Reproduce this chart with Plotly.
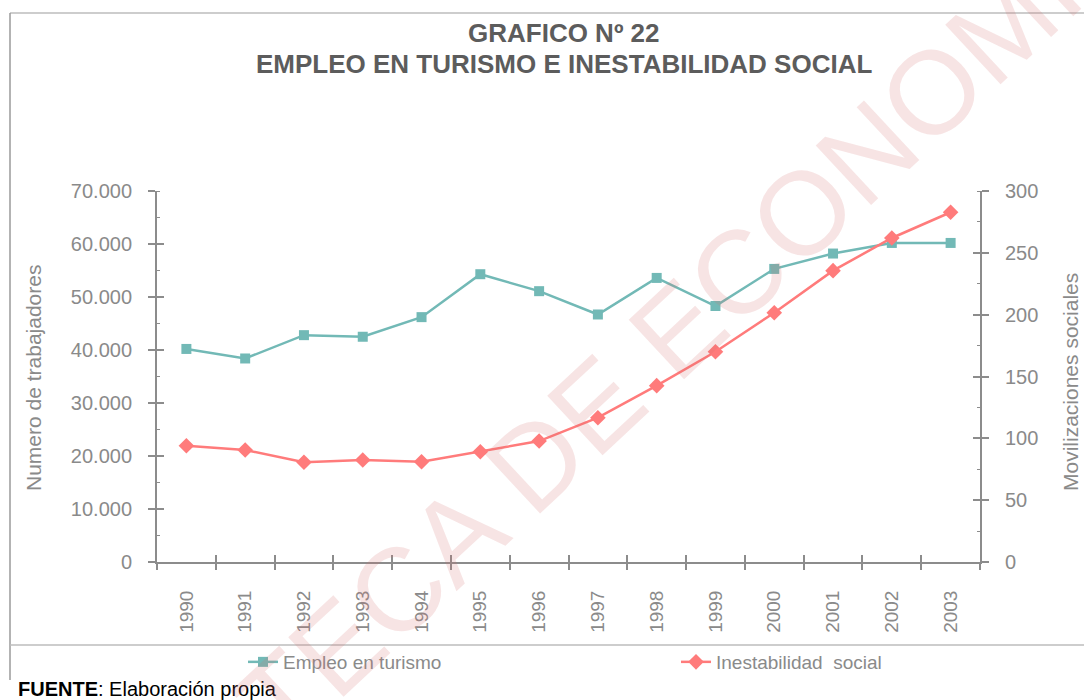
import plotly.graph_objects as go

years = [1990, 1991, 1992, 1993, 1994, 1995, 1996, 1997, 1998, 1999, 2000, 2001, 2002, 2003]
empleo_turismo = [40200, 38400, 42800, 42500, 46200, 54300, 51100, 46700, 53600, 48300, 55300, 58200, 60200, 60200]
inestabilidad_social = [94, 90.6, 80.6, 82.5, 81.1, 89.2, 97.8, 116.7, 142.6, 170, 201.6, 235.6, 262, 282.8]
year_labels = [str(y) for y in years]
boundaries = [y - 0.5 for y in years] + [years[-1] + 0.5]

TEAL = "#72b9b6"
RED = "#ff7b7b"
AX = "#8c8c8c"
TXT = "#8a8a8a"
FONT = "Liberation Sans, Arial, sans-serif"

fig = go.Figure()
fig.add_trace(go.Scatter(
    x=years, y=empleo_turismo, name="Empleo en turismo", mode="lines+markers",
    line=dict(color=TEAL, width=2.5), marker=dict(symbol="square", size=10, color=TEAL),
    xaxis="x", yaxis="y", legend="legend"))
fig.add_trace(go.Scatter(
    x=years, y=inestabilidad_social, name="Inestabilidad  social", mode="lines+markers",
    line=dict(color=RED, width=2.5), marker=dict(symbol="diamond", size=12, color=RED),
    xaxis="x", yaxis="y2", legend="legend2"))
# invisible helper traces so the tick-only overlay axes are drawn
for xa, ya, vals in [("x2", "y", empleo_turismo), ("x3", "y", empleo_turismo),
                     ("x", "y3", empleo_turismo), ("x", "y4", inestabilidad_social)]:
    fig.add_trace(go.Scatter(x=years, y=vals, mode="markers", marker=dict(opacity=0),
                             showlegend=False, hoverinfo="skip", xaxis=xa, yaxis=ya))

W, H = 823.0, 371.0
def px(xp):
    return (xp - 157) / W
def py(yp):
    return (562 - yp) / H

xr = [boundaries[0], boundaries[-1]]
tick_common = dict(tickwidth=1.5, tickcolor=AX, showgrid=False, zeroline=False, automargin=False)
legend_common = dict(orientation="h", xanchor="left", yanchor="middle", y=py(662),
                     font=dict(size=19, color=TXT, family=FONT), bgcolor="rgba(0,0,0,0)")
fig.update_layout(
    width=1084, height=700,
    margin=dict(l=157, r=104, t=191, b=138, pad=0),
    paper_bgcolor="white", plot_bgcolor="white",
    separators=",.",
    font=dict(family=FONT, color=TXT, size=19),
    showlegend=True,
    legend=dict(x=px(243), **legend_common),
    legend2=dict(x=px(676), **legend_common),
    xaxis=dict(range=xr, tickmode="array", tickvals=years, ticktext=year_labels, ticks="",
               tickangle=-90, showline=True, linecolor=AX, linewidth=2, showgrid=False,
               zeroline=False, automargin=False, tickfont=dict(size=19, color=TXT),
               ticklabelstandoff=19),
    xaxis2=dict(range=xr, overlaying="x", anchor="y", tickmode="array", tickvals=boundaries,
                ticks="outside", ticklen=7, showticklabels=False, showline=False, **tick_common),
    xaxis3=dict(range=xr, overlaying="x", anchor="y", tickmode="array", tickvals=boundaries,
                ticks="inside", ticklen=7, showticklabels=False, showline=False, **tick_common),
    yaxis=dict(range=[0, 70000], dtick=10000, tickformat=",d", ticks="outside", ticklen=7,
               showline=True, linecolor=AX, linewidth=2,
               tickfont=dict(size=20, color=TXT), ticklabelstandoff=12,
               minor=dict(ticks="inside", ticklen=3, dtick=5000, tickcolor=AX, tickwidth=1),
               **tick_common),
    yaxis2=dict(range=[0, 300], dtick=50, overlaying="y", side="right", anchor="x",
                ticks="outside", ticklen=7, showline=True, linecolor=AX, linewidth=2,
                tickfont=dict(size=20, color=TXT), ticklabelstandoff=12,
                minor=dict(ticks="inside", ticklen=3, dtick=25, tickcolor=AX, tickwidth=1),
                **tick_common),
    yaxis3=dict(range=[0, 70000], dtick=10000, overlaying="y", side="left", anchor="x",
                ticks="inside", ticklen=7, showticklabels=False, showline=False, **tick_common),
    yaxis4=dict(range=[0, 300], dtick=50, overlaying="y", side="right", anchor="x",
                ticks="inside", ticklen=7, showticklabels=False, showline=False, **tick_common),
)

titles = [("GRAFICO Nº 22", 33), ("EMPLEO EN TURISMO E INESTABILIDAD SOCIAL", 64)]
for text, ypix in titles:
    fig.add_annotation(text=f"<b>{text}</b>", x=px(564), y=py(ypix), xref="paper",
                       yref="paper", showarrow=False, xanchor="center", yanchor="middle",
                       font=dict(size=26, color="#5c5c5c", family=FONT))

fig.add_annotation(text="Numero de trabajadores", x=px(33), y=py(378), xref="paper",
                   yref="paper", showarrow=False, textangle=-90, xanchor="center",
                   yanchor="middle", font=dict(size=21, color=TXT, family=FONT))
fig.add_annotation(text="Movilizaciones sociales", x=px(1070), y=py(382), xref="paper",
                   yref="paper", showarrow=False, textangle=-90, xanchor="center",
                   yanchor="middle", font=dict(size=21, color=TXT, family=FONT))
fig.add_annotation(text="<b>FUENTE</b>: Elaboración propia", x=px(16), y=py(689),
                   xref="paper", yref="paper", showarrow=False, xanchor="left",
                   yanchor="middle", font=dict(size=20, color="black", family=FONT))

# watermark
fig.add_annotation(text="BIBLIOTECA DE ECONOMIA", x=px(548), y=py(450), xref="paper",
                   yref="paper", showarrow=False, textangle=-43, xanchor="center",
                   yanchor="middle",
                   font=dict(size=118, color="rgba(215,110,110,0.19)", family=FONT))

# frame lines
frame_col = "#bdbdbd"
fig.add_shape(type="line", xref="paper", yref="paper", x0=px(10), x1=px(1084), y0=py(13),
              y1=py(13), line=dict(color=frame_col, width=1.5))
fig.add_shape(type="line", xref="paper", yref="paper", x0=px(10), x1=px(10), y0=py(13),
              y1=py(680), line=dict(color="#9a9a9a", width=1.5))
fig.add_shape(type="line", xref="paper", yref="paper", x0=px(10), x1=px(1084), y0=py(645),
              y1=py(645), line=dict(color=frame_col, width=1.5))

fig.write_html("out.html", config={"displayModeBar": False},
               post_script="document.body.style.margin='0px';")
